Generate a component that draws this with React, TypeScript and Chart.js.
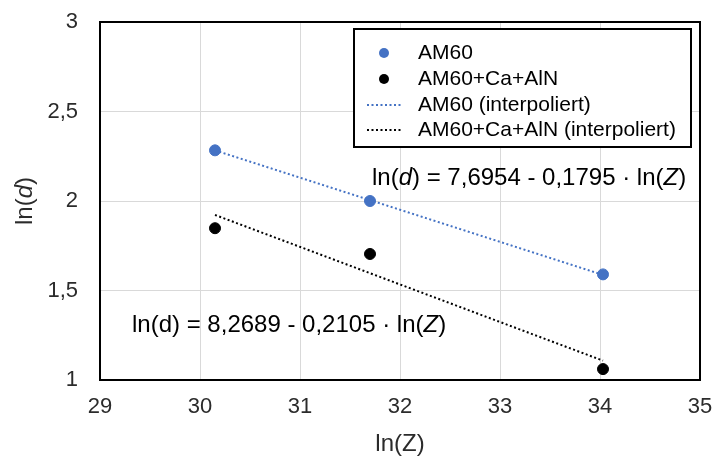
import React, { useEffect, useRef } from "react";
import { Chart, registerables } from "chart.js";

Chart.register(...registerables);

// ---- data ----
const lnZ = [30.15, 31.7, 34.03];
const am60 = [2.283, 2.0, 1.59];
const am60CaAlN = [1.848, 1.704, 1.061];
const trendZ = [30.15, 34.03];
const trendAM60 = [2.283, 1.587];
const trendCaAlN = [1.922, 1.108];
const seriesLabels = ["AM60", "AM60+Ca+AlN", "AM60 (interpoliert)", "AM60+Ca+AlN (interpoliert)"];
const xMin = 29, xMax = 35, xStep = 1;
const yMin = 1, yMax = 3, yStep = 0.5;
const xTitle = [{ t: "ln(Z)", i: false }];
const yTitle = [{ t: "ln(", i: false }, { t: "d", i: true }, { t: ")", i: false }];
const eqAM60 = [
  { t: "ln(", i: false }, { t: "d", i: true }, { t: ") = 7,6954 - 0,1795 · ln(", i: false },
  { t: "Z", i: true }, { t: ")", i: false },
];
const eqCaAlN = [
  { t: "ln(d) = 8,2689 - 0,2105 · ln(", i: false }, { t: "Z", i: true }, { t: ")", i: false },
];

const BLUE = "#4472C4";
const BLACK = "#000000";
const AXIS_TEXT = "#2b2b2b";
const FONT = "'Liberation Sans', Arial, Helvetica, sans-serif";

type Part = { t: string; i: boolean };

function drawRich(ctx: CanvasRenderingContext2D, parts: Part[], x: number, y: number, size: number, align: "left" | "center", color: string) {
  ctx.save();
  ctx.fillStyle = color;
  ctx.textBaseline = "middle";
  ctx.textAlign = "left";
  let total = 0;
  const widths = parts.map((p) => {
    ctx.font = `${p.i ? "italic " : ""}${size}px ${FONT}`;
    const w = ctx.measureText(p.t).width;
    total += w;
    return w;
  });
  let cx = align === "center" ? x - total / 2 : x;
  parts.forEach((p, k) => {
    ctx.font = `${p.i ? "italic " : ""}${size}px ${FONT}`;
    ctx.fillText(p.t, cx, y);
    cx += widths[k];
  });
  ctx.restore();
}

const decorPlugin = {
  id: "decor",
  afterDraw(chart: any) {
    const { ctx, chartArea, scales } = chart;
    const xs = scales.x, ys = scales.y;
    // plot border
    ctx.save();
    ctx.strokeStyle = "#000";
    ctx.lineWidth = 2;
    ctx.strokeRect(chartArea.left, chartArea.top, chartArea.right - chartArea.left, chartArea.bottom - chartArea.top);
    ctx.restore();

    // axis titles
    drawRich(ctx, xTitle, (chartArea.left + chartArea.right) / 2, 444, 24, "center", AXIS_TEXT);
    ctx.save();
    ctx.translate(25, (chartArea.top + chartArea.bottom) / 2);
    ctx.rotate(-Math.PI / 2);
    drawRich(ctx, yTitle, 0, 0, 24, "center", AXIS_TEXT);
    ctx.restore();

    // equations
    drawRich(ctx, eqAM60, xs.getPixelForValue(31.72), ys.getPixelForValue(2.128), 24, "left", "#000");
    drawRich(ctx, eqCaAlN, xs.getPixelForValue(29.32), ys.getPixelForValue(1.307), 24, "left", "#000");

    // legend
    const bx = 354, by = 29, bw = 337, bh = 118;
    ctx.save();
    ctx.fillStyle = "#fff";
    ctx.fillRect(bx, by, bw, bh);
    ctx.strokeStyle = "#000";
    ctx.lineWidth = 2;
    ctx.strokeRect(bx, by, bw, bh);
    const rows = [53, 79, 105, 130];
    const ds = chart.data.datasets;
    ds.forEach((d: any, k: number) => {
      const y = rows[k];
      if (d.showLine) {
        ctx.save();
        ctx.strokeStyle = d.borderColor;
        ctx.lineWidth = 2;
        ctx.setLineDash(d.borderDash);
        ctx.beginPath();
        ctx.moveTo(367, y);
        ctx.lineTo(402, y);
        ctx.stroke();
        ctx.restore();
      } else {
        ctx.beginPath();
        ctx.fillStyle = d.backgroundColor;
        ctx.arc(384, y, 5, 0, Math.PI * 2);
        ctx.fill();
      }
      ctx.fillStyle = "#000";
      ctx.font = `21px ${FONT}`;
      ctx.textBaseline = "middle";
      ctx.textAlign = "left";
      ctx.fillText(d.label, 418, y);
    });
    ctx.restore();
  },
};

export default function App() {
  const ref = useRef<HTMLCanvasElement | null>(null);
  useEffect(() => {
    if (!ref.current) return;
    const pts = (xsArr: number[], ysArr: number[]) => xsArr.map((x, k) => ({ x, y: ysArr[k] }));
    const chart = new Chart(ref.current, {
      type: "scatter",
      data: {
        datasets: [
          { label: seriesLabels[0], data: pts(lnZ, am60), backgroundColor: BLUE, borderColor: BLUE, pointRadius: 5.5, pointHoverRadius: 5.5, showLine: false, order: 1 },
          { label: seriesLabels[1], data: pts(lnZ, am60CaAlN), backgroundColor: BLACK, borderColor: BLACK, pointRadius: 5.5, pointHoverRadius: 5.5, showLine: false, order: 1 },
          { label: seriesLabels[2], data: pts(trendZ, trendAM60), borderColor: BLUE, backgroundColor: BLUE, borderWidth: 2, borderDash: [2, 2.5], pointRadius: 0, showLine: true, order: 2 },
          { label: seriesLabels[3], data: pts(trendZ, trendCaAlN), borderColor: BLACK, backgroundColor: BLACK, borderWidth: 2, borderDash: [2, 2.5], pointRadius: 0, showLine: true, order: 2 },
        ] as any,
      },
      options: {
        animation: false,
        responsive: true,
        maintainAspectRatio: false,
        layout: { padding: { top: 22, right: 16, left: 0, bottom: 0 } },
        plugins: { legend: { display: false }, tooltip: { enabled: false }, title: { display: false } },
        scales: {
          x: {
            type: "linear",
            min: xMin,
            max: xMax,
            ticks: { stepSize: xStep, padding: 14, color: AXIS_TEXT, font: { family: FONT, size: 22 } },
            grid: { color: "#D9D9D9", lineWidth: 1, drawTicks: false },
            border: { display: false },
            afterFit: (s: any) => { s.height = 79; s.paddingLeft = 0; s.paddingRight = 0; },
          },
          y: {
            type: "linear",
            min: yMin,
            max: yMax,
            ticks: {
              stepSize: yStep,
              padding: 22,
              color: AXIS_TEXT,
              font: { family: FONT, size: 22 },
              callback: (v: any) => String(v).replace(".", ","),
            },
            grid: { color: "#D9D9D9", lineWidth: 1, drawTicks: false },
            border: { display: false },
            afterFit: (s: any) => { s.width = 100; s.paddingTop = 0; s.paddingBottom = 0; },
          },
        },
      } as any,
      plugins: [decorPlugin],
    });
    return () => chart.destroy();
  }, []);
  return (
    <div style={{ position: "fixed", left: 0, top: 0, width: 716, height: 459, background: "#fff" }}>
      <canvas ref={ref} />
    </div>
  );
}
